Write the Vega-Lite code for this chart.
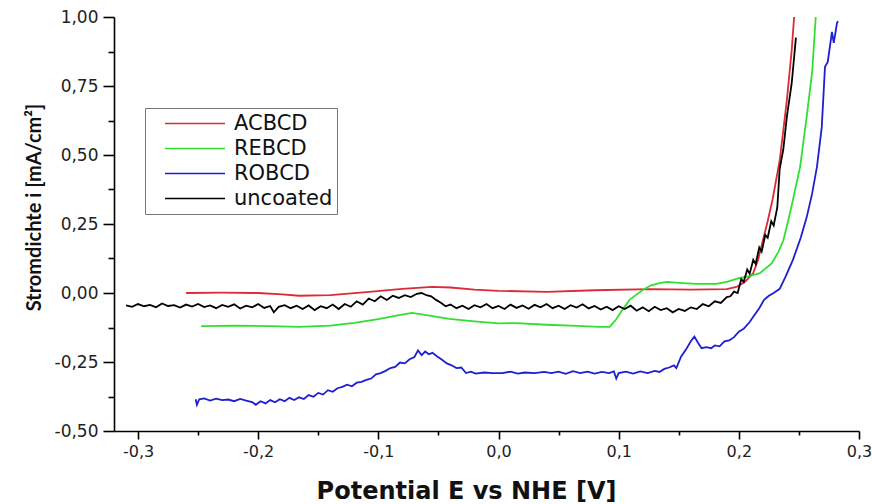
{
  "$schema": "https://vega.github.io/schema/vega-lite/v6.json",
  "width": 745,
  "height": 414,
  "autosize": {"type": "none"},
  "padding": {"left": 114, "top": 17, "right": 13, "bottom": 73},
  "config": {
    "view": {"stroke": null},
    "axis": {"grid": false, "domainColor": "#000", "domainWidth": 1.6, "tickColor": "#000", "tickWidth": 1.6, "labelColor": "#222", "labelFont": "DejaVu Sans", "labelFontSize": 16, "titleColor": "#111"}
  },
  "data": {
    "values": [
      {"s": "ACBCD", "E": -0.260, "i": 0.000},
      {"s": "ACBCD", "E": -0.230, "i": 0.001},
      {"s": "ACBCD", "E": -0.200, "i": 0.000},
      {"s": "ACBCD", "E": -0.180, "i": -0.005},
      {"s": "ACBCD", "E": -0.166, "i": -0.010},
      {"s": "ACBCD", "E": -0.140, "i": -0.008},
      {"s": "ACBCD", "E": -0.110, "i": 0.003},
      {"s": "ACBCD", "E": -0.080, "i": 0.015},
      {"s": "ACBCD", "E": -0.055, "i": 0.022},
      {"s": "ACBCD", "E": -0.040, "i": 0.020},
      {"s": "ACBCD", "E": -0.020, "i": 0.012},
      {"s": "ACBCD", "E": 0.000, "i": 0.008},
      {"s": "ACBCD", "E": 0.040, "i": 0.004},
      {"s": "ACBCD", "E": 0.080, "i": 0.010},
      {"s": "ACBCD", "E": 0.126, "i": 0.014},
      {"s": "ACBCD", "E": 0.160, "i": 0.012},
      {"s": "ACBCD", "E": 0.190, "i": 0.014},
      {"s": "ACBCD", "E": 0.198, "i": 0.022},
      {"s": "ACBCD", "E": 0.205, "i": 0.040},
      {"s": "ACBCD", "E": 0.212, "i": 0.072},
      {"s": "ACBCD", "E": 0.216, "i": 0.120},
      {"s": "ACBCD", "E": 0.220, "i": 0.190},
      {"s": "ACBCD", "E": 0.224, "i": 0.260},
      {"s": "ACBCD", "E": 0.228, "i": 0.337},
      {"s": "ACBCD", "E": 0.234, "i": 0.480},
      {"s": "ACBCD", "E": 0.240, "i": 0.700},
      {"s": "ACBCD", "E": 0.244, "i": 0.880},
      {"s": "ACBCD", "E": 0.246, "i": 1.000},

      {"s": "REBCD", "E": -0.2475, "i": -0.120},
      {"s": "REBCD", "E": -0.220, "i": -0.118},
      {"s": "REBCD", "E": -0.190, "i": -0.120},
      {"s": "REBCD", "E": -0.166, "i": -0.123},
      {"s": "REBCD", "E": -0.140, "i": -0.118},
      {"s": "REBCD", "E": -0.120, "i": -0.108},
      {"s": "REBCD", "E": -0.100, "i": -0.095},
      {"s": "REBCD", "E": -0.085, "i": -0.082},
      {"s": "REBCD", "E": -0.072, "i": -0.072},
      {"s": "REBCD", "E": -0.060, "i": -0.080},
      {"s": "REBCD", "E": -0.041, "i": -0.094},
      {"s": "REBCD", "E": -0.020, "i": -0.103},
      {"s": "REBCD", "E": 0.000, "i": -0.110},
      {"s": "REBCD", "E": 0.015, "i": -0.109},
      {"s": "REBCD", "E": 0.040, "i": -0.115},
      {"s": "REBCD", "E": 0.060, "i": -0.118},
      {"s": "REBCD", "E": 0.084, "i": -0.123},
      {"s": "REBCD", "E": 0.0925, "i": -0.123},
      {"s": "REBCD", "E": 0.098, "i": -0.095},
      {"s": "REBCD", "E": 0.103, "i": -0.062},
      {"s": "REBCD", "E": 0.109, "i": -0.025},
      {"s": "REBCD", "E": 0.115, "i": -0.005},
      {"s": "REBCD", "E": 0.120, "i": 0.011},
      {"s": "REBCD", "E": 0.127, "i": 0.028},
      {"s": "REBCD", "E": 0.134, "i": 0.036},
      {"s": "REBCD", "E": 0.140, "i": 0.040},
      {"s": "REBCD", "E": 0.153, "i": 0.036},
      {"s": "REBCD", "E": 0.165, "i": 0.033},
      {"s": "REBCD", "E": 0.181, "i": 0.033},
      {"s": "REBCD", "E": 0.190, "i": 0.040},
      {"s": "REBCD", "E": 0.200, "i": 0.054},
      {"s": "REBCD", "E": 0.208, "i": 0.060},
      {"s": "REBCD", "E": 0.2175, "i": 0.072},
      {"s": "REBCD", "E": 0.2275, "i": 0.108},
      {"s": "REBCD", "E": 0.233, "i": 0.150},
      {"s": "REBCD", "E": 0.237, "i": 0.190},
      {"s": "REBCD", "E": 0.241, "i": 0.260},
      {"s": "REBCD", "E": 0.245, "i": 0.337},
      {"s": "REBCD", "E": 0.251, "i": 0.457},
      {"s": "REBCD", "E": 0.2565, "i": 0.640},
      {"s": "REBCD", "E": 0.261, "i": 0.800},
      {"s": "REBCD", "E": 0.264, "i": 1.000},

      {"s": "ROBCD", "E": -0.252, "i": -0.385},
      {"s": "ROBCD", "E": -0.251, "i": -0.405},
      {"s": "ROBCD", "E": -0.249, "i": -0.385},
      {"s": "ROBCD", "E": -0.245, "i": -0.382},
      {"s": "ROBCD", "E": -0.240, "i": -0.390},
      {"s": "ROBCD", "E": -0.235, "i": -0.383},
      {"s": "ROBCD", "E": -0.230, "i": -0.388},
      {"s": "ROBCD", "E": -0.225, "i": -0.386},
      {"s": "ROBCD", "E": -0.220, "i": -0.392},
      {"s": "ROBCD", "E": -0.215, "i": -0.384},
      {"s": "ROBCD", "E": -0.210, "i": -0.390},
      {"s": "ROBCD", "E": -0.205, "i": -0.395},
      {"s": "ROBCD", "E": -0.202, "i": -0.405},
      {"s": "ROBCD", "E": -0.198, "i": -0.392},
      {"s": "ROBCD", "E": -0.194, "i": -0.400},
      {"s": "ROBCD", "E": -0.190, "i": -0.388},
      {"s": "ROBCD", "E": -0.186, "i": -0.396},
      {"s": "ROBCD", "E": -0.182, "i": -0.385},
      {"s": "ROBCD", "E": -0.178, "i": -0.392},
      {"s": "ROBCD", "E": -0.174, "i": -0.380},
      {"s": "ROBCD", "E": -0.170, "i": -0.388},
      {"s": "ROBCD", "E": -0.166, "i": -0.378},
      {"s": "ROBCD", "E": -0.162, "i": -0.384},
      {"s": "ROBCD", "E": -0.158, "i": -0.370},
      {"s": "ROBCD", "E": -0.154, "i": -0.376},
      {"s": "ROBCD", "E": -0.150, "i": -0.362},
      {"s": "ROBCD", "E": -0.146, "i": -0.368},
      {"s": "ROBCD", "E": -0.142, "i": -0.352},
      {"s": "ROBCD", "E": -0.138, "i": -0.358},
      {"s": "ROBCD", "E": -0.134, "i": -0.345},
      {"s": "ROBCD", "E": -0.130, "i": -0.340},
      {"s": "ROBCD", "E": -0.126, "i": -0.332},
      {"s": "ROBCD", "E": -0.122, "i": -0.338},
      {"s": "ROBCD", "E": -0.118, "i": -0.325},
      {"s": "ROBCD", "E": -0.114, "i": -0.322},
      {"s": "ROBCD", "E": -0.110, "i": -0.315},
      {"s": "ROBCD", "E": -0.106, "i": -0.310},
      {"s": "ROBCD", "E": -0.102, "i": -0.295},
      {"s": "ROBCD", "E": -0.098, "i": -0.290},
      {"s": "ROBCD", "E": -0.094, "i": -0.282},
      {"s": "ROBCD", "E": -0.090, "i": -0.272},
      {"s": "ROBCD", "E": -0.086, "i": -0.268},
      {"s": "ROBCD", "E": -0.082, "i": -0.252},
      {"s": "ROBCD", "E": -0.078, "i": -0.255},
      {"s": "ROBCD", "E": -0.074, "i": -0.240},
      {"s": "ROBCD", "E": -0.070, "i": -0.232},
      {"s": "ROBCD", "E": -0.067, "i": -0.208},
      {"s": "ROBCD", "E": -0.064, "i": -0.225},
      {"s": "ROBCD", "E": -0.061, "i": -0.212},
      {"s": "ROBCD", "E": -0.058, "i": -0.222},
      {"s": "ROBCD", "E": -0.055, "i": -0.217},
      {"s": "ROBCD", "E": -0.051, "i": -0.230},
      {"s": "ROBCD", "E": -0.047, "i": -0.242},
      {"s": "ROBCD", "E": -0.043, "i": -0.255},
      {"s": "ROBCD", "E": -0.039, "i": -0.262},
      {"s": "ROBCD", "E": -0.035, "i": -0.272},
      {"s": "ROBCD", "E": -0.031, "i": -0.270},
      {"s": "ROBCD", "E": -0.027, "i": -0.290},
      {"s": "ROBCD", "E": -0.023, "i": -0.285},
      {"s": "ROBCD", "E": -0.019, "i": -0.292},
      {"s": "ROBCD", "E": -0.012, "i": -0.288},
      {"s": "ROBCD", "E": -0.005, "i": -0.290},
      {"s": "ROBCD", "E": 0.003, "i": -0.290},
      {"s": "ROBCD", "E": 0.010, "i": -0.285},
      {"s": "ROBCD", "E": 0.016, "i": -0.292},
      {"s": "ROBCD", "E": 0.022, "i": -0.288},
      {"s": "ROBCD", "E": 0.030, "i": -0.290},
      {"s": "ROBCD", "E": 0.038, "i": -0.286},
      {"s": "ROBCD", "E": 0.044, "i": -0.290},
      {"s": "ROBCD", "E": 0.050, "i": -0.285},
      {"s": "ROBCD", "E": 0.056, "i": -0.293},
      {"s": "ROBCD", "E": 0.062, "i": -0.283},
      {"s": "ROBCD", "E": 0.068, "i": -0.290},
      {"s": "ROBCD", "E": 0.074, "i": -0.285},
      {"s": "ROBCD", "E": 0.080, "i": -0.292},
      {"s": "ROBCD", "E": 0.086, "i": -0.286},
      {"s": "ROBCD", "E": 0.092, "i": -0.290},
      {"s": "ROBCD", "E": 0.096, "i": -0.284},
      {"s": "ROBCD", "E": 0.098, "i": -0.310},
      {"s": "ROBCD", "E": 0.100, "i": -0.290},
      {"s": "ROBCD", "E": 0.106, "i": -0.285},
      {"s": "ROBCD", "E": 0.112, "i": -0.292},
      {"s": "ROBCD", "E": 0.118, "i": -0.284},
      {"s": "ROBCD", "E": 0.124, "i": -0.290},
      {"s": "ROBCD", "E": 0.130, "i": -0.282},
      {"s": "ROBCD", "E": 0.134, "i": -0.286},
      {"s": "ROBCD", "E": 0.138, "i": -0.275},
      {"s": "ROBCD", "E": 0.142, "i": -0.270},
      {"s": "ROBCD", "E": 0.146, "i": -0.262},
      {"s": "ROBCD", "E": 0.148, "i": -0.272},
      {"s": "ROBCD", "E": 0.152, "i": -0.230},
      {"s": "ROBCD", "E": 0.156, "i": -0.205},
      {"s": "ROBCD", "E": 0.160, "i": -0.175},
      {"s": "ROBCD", "E": 0.163, "i": -0.158},
      {"s": "ROBCD", "E": 0.166, "i": -0.180},
      {"s": "ROBCD", "E": 0.169, "i": -0.200},
      {"s": "ROBCD", "E": 0.173, "i": -0.196},
      {"s": "ROBCD", "E": 0.177, "i": -0.200},
      {"s": "ROBCD", "E": 0.180, "i": -0.190},
      {"s": "ROBCD", "E": 0.184, "i": -0.193},
      {"s": "ROBCD", "E": 0.188, "i": -0.175},
      {"s": "ROBCD", "E": 0.192, "i": -0.172},
      {"s": "ROBCD", "E": 0.196, "i": -0.160},
      {"s": "ROBCD", "E": 0.200, "i": -0.140},
      {"s": "ROBCD", "E": 0.204, "i": -0.130},
      {"s": "ROBCD", "E": 0.209, "i": -0.105},
      {"s": "ROBCD", "E": 0.213, "i": -0.080},
      {"s": "ROBCD", "E": 0.217, "i": -0.055},
      {"s": "ROBCD", "E": 0.221, "i": -0.025},
      {"s": "ROBCD", "E": 0.225, "i": -0.010},
      {"s": "ROBCD", "E": 0.229, "i": 0.000},
      {"s": "ROBCD", "E": 0.234, "i": 0.015},
      {"s": "ROBCD", "E": 0.239, "i": 0.060},
      {"s": "ROBCD", "E": 0.245, "i": 0.120},
      {"s": "ROBCD", "E": 0.2515, "i": 0.200},
      {"s": "ROBCD", "E": 0.2565, "i": 0.275},
      {"s": "ROBCD", "E": 0.261, "i": 0.360},
      {"s": "ROBCD", "E": 0.265, "i": 0.457},
      {"s": "ROBCD", "E": 0.269, "i": 0.600},
      {"s": "ROBCD", "E": 0.2717, "i": 0.820},
      {"s": "ROBCD", "E": 0.274, "i": 0.837},
      {"s": "ROBCD", "E": 0.2775, "i": 0.946},
      {"s": "ROBCD", "E": 0.279, "i": 0.906},
      {"s": "ROBCD", "E": 0.2817, "i": 0.978},
      {"s": "ROBCD", "E": 0.2825, "i": 0.985},

      {"s": "uncoated", "E": -0.310, "i": -0.045},
      {"s": "uncoated", "E": -0.305, "i": -0.050},
      {"s": "uncoated", "E": -0.300, "i": -0.040},
      {"s": "uncoated", "E": -0.295, "i": -0.048},
      {"s": "uncoated", "E": -0.290, "i": -0.043},
      {"s": "uncoated", "E": -0.285, "i": -0.052},
      {"s": "uncoated", "E": -0.280, "i": -0.038},
      {"s": "uncoated", "E": -0.275, "i": -0.047},
      {"s": "uncoated", "E": -0.270, "i": -0.044},
      {"s": "uncoated", "E": -0.265, "i": -0.053},
      {"s": "uncoated", "E": -0.260, "i": -0.042},
      {"s": "uncoated", "E": -0.255, "i": -0.049},
      {"s": "uncoated", "E": -0.250, "i": -0.040},
      {"s": "uncoated", "E": -0.245, "i": -0.051},
      {"s": "uncoated", "E": -0.240, "i": -0.045},
      {"s": "uncoated", "E": -0.235, "i": -0.055},
      {"s": "uncoated", "E": -0.230, "i": -0.043},
      {"s": "uncoated", "E": -0.225, "i": -0.050},
      {"s": "uncoated", "E": -0.220, "i": -0.041},
      {"s": "uncoated", "E": -0.215, "i": -0.056},
      {"s": "uncoated", "E": -0.210, "i": -0.046},
      {"s": "uncoated", "E": -0.205, "i": -0.052},
      {"s": "uncoated", "E": -0.200, "i": -0.040},
      {"s": "uncoated", "E": -0.195, "i": -0.054},
      {"s": "uncoated", "E": -0.190, "i": -0.047},
      {"s": "uncoated", "E": -0.187, "i": -0.070},
      {"s": "uncoated", "E": -0.183, "i": -0.050},
      {"s": "uncoated", "E": -0.178, "i": -0.044},
      {"s": "uncoated", "E": -0.173, "i": -0.055},
      {"s": "uncoated", "E": -0.168, "i": -0.046},
      {"s": "uncoated", "E": -0.163, "i": -0.058},
      {"s": "uncoated", "E": -0.158, "i": -0.045},
      {"s": "uncoated", "E": -0.153, "i": -0.062},
      {"s": "uncoated", "E": -0.148, "i": -0.048},
      {"s": "uncoated", "E": -0.143, "i": -0.055},
      {"s": "uncoated", "E": -0.138, "i": -0.042},
      {"s": "uncoated", "E": -0.133, "i": -0.058},
      {"s": "uncoated", "E": -0.128, "i": -0.040},
      {"s": "uncoated", "E": -0.123, "i": -0.050},
      {"s": "uncoated", "E": -0.118, "i": -0.030},
      {"s": "uncoated", "E": -0.113, "i": -0.042},
      {"s": "uncoated", "E": -0.108, "i": -0.020},
      {"s": "uncoated", "E": -0.103, "i": -0.030},
      {"s": "uncoated", "E": -0.098, "i": -0.012},
      {"s": "uncoated", "E": -0.093, "i": -0.025},
      {"s": "uncoated", "E": -0.088, "i": -0.010},
      {"s": "uncoated", "E": -0.083, "i": -0.018},
      {"s": "uncoated", "E": -0.078, "i": -0.008},
      {"s": "uncoated", "E": -0.073, "i": -0.015},
      {"s": "uncoated", "E": -0.068, "i": -0.003},
      {"s": "uncoated", "E": -0.064, "i": 0.000},
      {"s": "uncoated", "E": -0.060, "i": -0.008},
      {"s": "uncoated", "E": -0.056, "i": -0.012},
      {"s": "uncoated", "E": -0.052, "i": -0.025},
      {"s": "uncoated", "E": -0.048, "i": -0.035},
      {"s": "uncoated", "E": -0.044, "i": -0.048},
      {"s": "uncoated", "E": -0.040, "i": -0.042},
      {"s": "uncoated", "E": -0.035, "i": -0.055},
      {"s": "uncoated", "E": -0.030, "i": -0.046},
      {"s": "uncoated", "E": -0.025, "i": -0.058},
      {"s": "uncoated", "E": -0.020, "i": -0.044},
      {"s": "uncoated", "E": -0.015, "i": -0.052},
      {"s": "uncoated", "E": -0.010, "i": -0.040},
      {"s": "uncoated", "E": -0.005, "i": -0.055},
      {"s": "uncoated", "E": 0.000, "i": -0.047},
      {"s": "uncoated", "E": 0.005, "i": -0.058},
      {"s": "uncoated", "E": 0.010, "i": -0.042},
      {"s": "uncoated", "E": 0.015, "i": -0.054},
      {"s": "uncoated", "E": 0.020, "i": -0.045},
      {"s": "uncoated", "E": 0.025, "i": -0.057},
      {"s": "uncoated", "E": 0.030, "i": -0.043},
      {"s": "uncoated", "E": 0.035, "i": -0.052},
      {"s": "uncoated", "E": 0.040, "i": -0.040},
      {"s": "uncoated", "E": 0.045, "i": -0.055},
      {"s": "uncoated", "E": 0.050, "i": -0.046},
      {"s": "uncoated", "E": 0.055, "i": -0.058},
      {"s": "uncoated", "E": 0.060, "i": -0.044},
      {"s": "uncoated", "E": 0.065, "i": -0.053},
      {"s": "uncoated", "E": 0.070, "i": -0.041},
      {"s": "uncoated", "E": 0.075, "i": -0.056},
      {"s": "uncoated", "E": 0.080, "i": -0.047},
      {"s": "uncoated", "E": 0.085, "i": -0.060},
      {"s": "uncoated", "E": 0.090, "i": -0.050},
      {"s": "uncoated", "E": 0.095, "i": -0.062},
      {"s": "uncoated", "E": 0.100, "i": -0.048},
      {"s": "uncoated", "E": 0.105, "i": -0.058},
      {"s": "uncoated", "E": 0.110, "i": -0.046},
      {"s": "uncoated", "E": 0.115, "i": -0.064},
      {"s": "uncoated", "E": 0.120, "i": -0.052},
      {"s": "uncoated", "E": 0.125, "i": -0.066},
      {"s": "uncoated", "E": 0.130, "i": -0.050},
      {"s": "uncoated", "E": 0.135, "i": -0.062},
      {"s": "uncoated", "E": 0.140, "i": -0.055},
      {"s": "uncoated", "E": 0.145, "i": -0.070},
      {"s": "uncoated", "E": 0.150, "i": -0.058},
      {"s": "uncoated", "E": 0.155, "i": -0.065},
      {"s": "uncoated", "E": 0.160, "i": -0.052},
      {"s": "uncoated", "E": 0.165, "i": -0.058},
      {"s": "uncoated", "E": 0.170, "i": -0.040},
      {"s": "uncoated", "E": 0.175, "i": -0.048},
      {"s": "uncoated", "E": 0.180, "i": -0.030},
      {"s": "uncoated", "E": 0.185, "i": -0.036},
      {"s": "uncoated", "E": 0.190, "i": -0.015},
      {"s": "uncoated", "E": 0.193, "i": -0.012},
      {"s": "uncoated", "E": 0.196, "i": 0.005},
      {"s": "uncoated", "E": 0.199, "i": 0.000},
      {"s": "uncoated", "E": 0.202, "i": 0.050},
      {"s": "uncoated", "E": 0.204, "i": 0.040},
      {"s": "uncoated", "E": 0.207, "i": 0.085},
      {"s": "uncoated", "E": 0.209, "i": 0.070},
      {"s": "uncoated", "E": 0.212, "i": 0.120},
      {"s": "uncoated", "E": 0.214, "i": 0.105},
      {"s": "uncoated", "E": 0.217, "i": 0.165},
      {"s": "uncoated", "E": 0.219, "i": 0.150},
      {"s": "uncoated", "E": 0.222, "i": 0.210},
      {"s": "uncoated", "E": 0.224, "i": 0.200},
      {"s": "uncoated", "E": 0.227, "i": 0.260},
      {"s": "uncoated", "E": 0.229, "i": 0.245},
      {"s": "uncoated", "E": 0.232, "i": 0.310},
      {"s": "uncoated", "E": 0.234, "i": 0.450},
      {"s": "uncoated", "E": 0.237, "i": 0.520},
      {"s": "uncoated", "E": 0.240, "i": 0.640},
      {"s": "uncoated", "E": 0.244, "i": 0.760},
      {"s": "uncoated", "E": 0.2475, "i": 0.925}
    ]
  },
  "mark": {"type": "line", "strokeWidth": 1.8, "clip": true},
  "encoding": {
    "x": {
      "field": "E", "type": "quantitative",
      "scale": {"domain": [-0.32, 0.3], "nice": false, "zero": false},
      "axis": {
        "values": [-0.3, -0.25, -0.2, -0.15, -0.1, -0.05, 0, 0.05, 0.1, 0.15, 0.2, 0.25, 0.3],
        "labelExpr": "round(datum.value*20) % 2 != 0 ? '' : (datum.value < -0.001 ? '-' : '') + replace(format(abs(datum.value), '.1f'), '.', ',')",
        "tickSize": {"condition": {"test": "round(datum.value*20) % 2 != 0", "value": 4}, "value": 8},
        "labelFontSize": 16,
        "labelPadding": 4,
        "labelFlush": false,
        "labelOverlap": false,
        "title": "Potential E vs NHE [V]",
        "titleFont": "DejaVu Sans",
        "titleFontWeight": "bold",
        "titleFontSize": 24,
        "titleX": 352,
        "titleY": 67,
        "titleBaseline": "alphabetic"
      }
    },
    "y": {
      "field": "i", "type": "quantitative",
      "scale": {"domain": [-0.5, 1.0], "nice": false, "zero": false},
      "axis": {
        "values": [-0.5, -0.375, -0.25, -0.125, 0, 0.125, 0.25, 0.375, 0.5, 0.625, 0.75, 0.875, 1.0],
        "labelExpr": "round(datum.value*8) % 2 != 0 ? '' : (datum.value < -0.001 ? '-' : '') + replace(format(abs(datum.value), '.2f'), '.', ',')",
        "tickSize": {"condition": {"test": "round(datum.value*8) % 2 != 0", "value": 6}, "value": 11},
        "labelFontSize": 17,
        "labelPadding": 5,
        "labelFlush": false,
        "labelOverlap": false,
        "title": "Stromdichte i [mA/cm²]",
        "titleFont": "Lato",
        "titleFontWeight": "bold",
        "titleFontSize": 20,
        "titleX": -70,
        "titleY": 190
      }
    },
    "color": {
      "field": "s", "type": "nominal",
      "scale": {"domain": ["ACBCD", "REBCD", "ROBCD", "uncoated"], "range": ["#dc2a36", "#30e030", "#1e1ed2", "#000000"]},
      "legend": {
        "title": null,
        "orient": "none",
        "legendX": 31,
        "legendY": 91,
        "symbolType": "stroke",
        "symbolSize": 3600,
        "symbolStrokeWidth": 1.5,
        "symbolOffset": 15,
        "labelOffset": 8,
        "clipHeight": 23,
        "rowPadding": 2,
        "padding": 4,
        "labelFont": "DejaVu Sans",
        "labelFontSize": 21,
        "labelColor": "#111",
        "strokeColor": "#777",
        "fillColor": "#ffffff"
      }
    }
  }
}
